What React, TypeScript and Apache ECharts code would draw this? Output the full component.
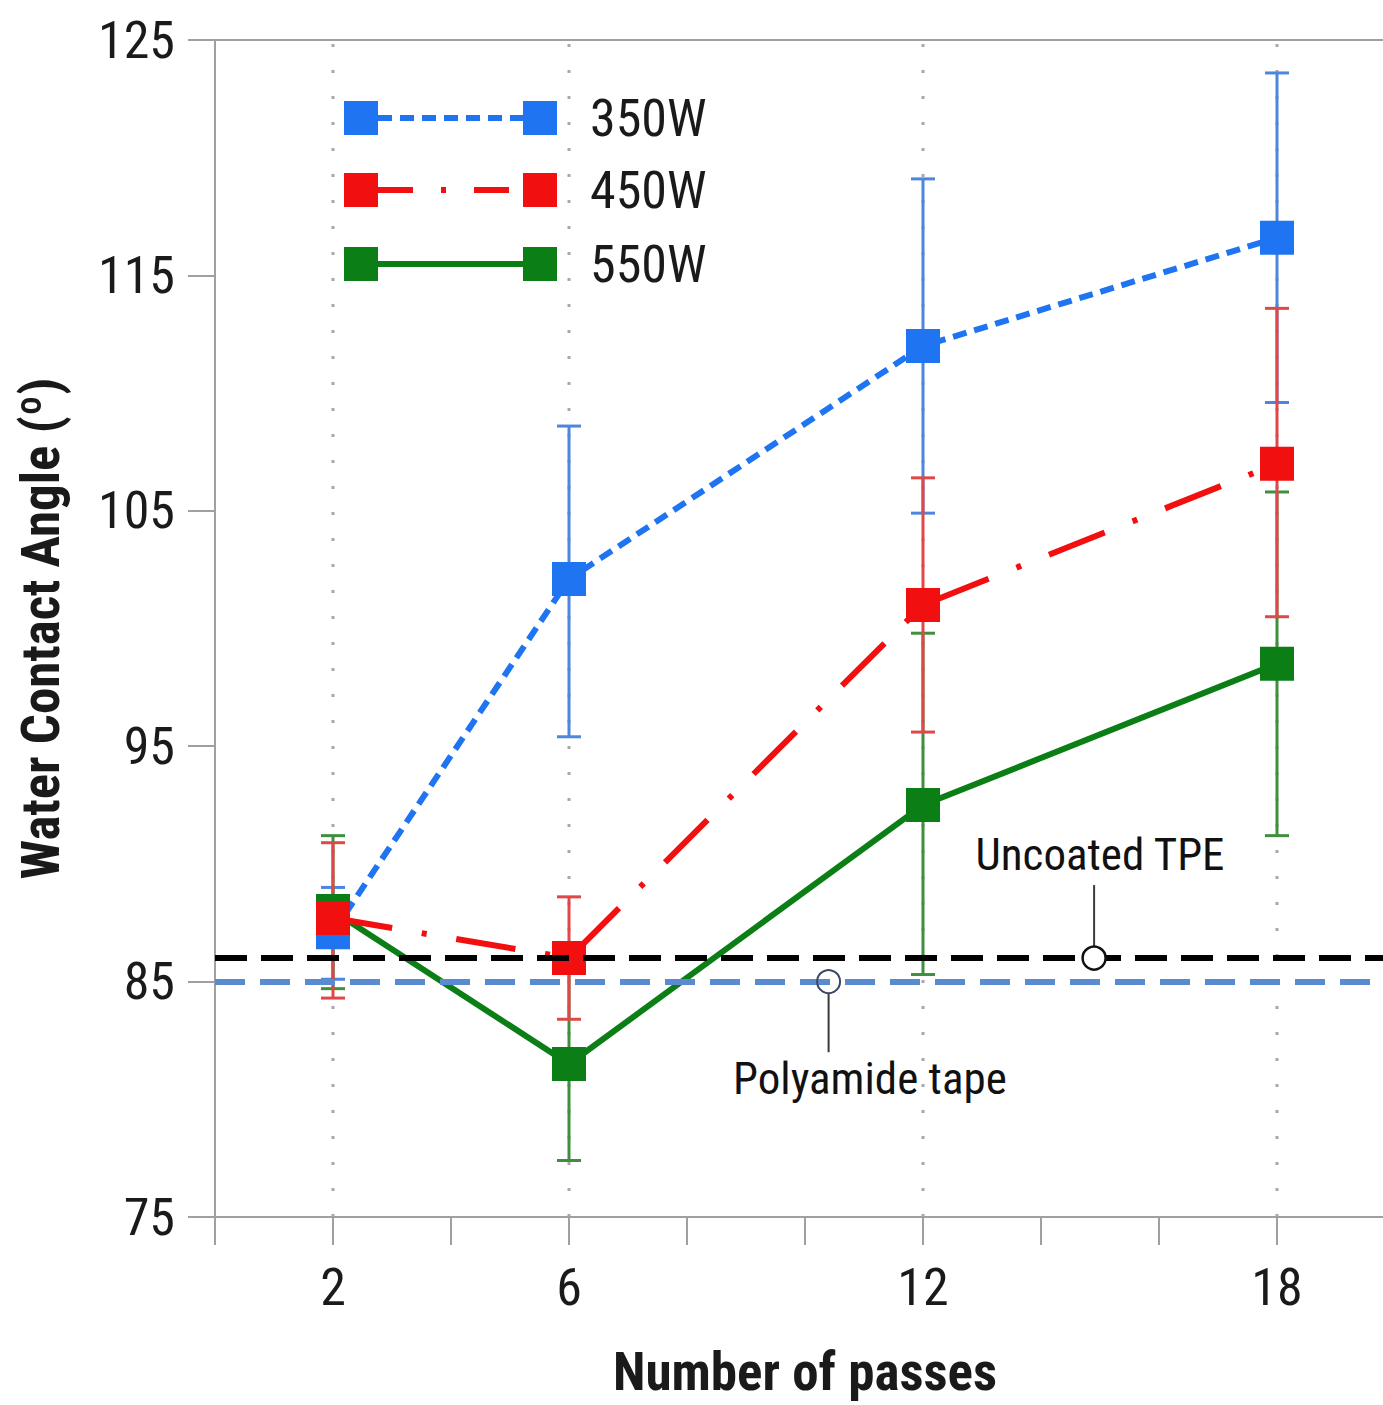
import React, { useEffect, useRef } from "react";
import * as echarts from "echarts";

const passes = [2, 6, 12, 18];
const w350 = [87.1, 102.1, 112.0, 116.6];
const w350Low = [85.1, 95.4, 104.9, 109.6];
const w350High = [89.0, 108.6, 119.1, 123.6];
const w450 = [87.7, 86.0, 101.0, 107.0];
const w450Low = [84.3, 83.4, 95.6, 100.5];
const w450High = [90.9, 88.6, 106.4, 113.6];
const w550 = [88.0, 81.5, 92.5, 98.5];
const w550Low = [84.7, 77.4, 85.3, 91.2];
const w550High = [91.2, 85.5, 99.8, 105.8];
const seriesNames = ["350W", "450W", "550W"];
const xLabelTicks = [2, 6, 12, 18];
const yRange = [75, 125];
const uncoatedTPE = 86.0;
const polyamideTape = 85.0;
const uncoatedMarker = [14.9, 86.0];
const polyamideMarker = [10.4, 85.0];
const uncoatedLeader = [[14.9, 86.5], [14.9, 89.1]];
const polyamideLeader = [[10.4, 84.5], [10.4, 82.0]];
const uncoatedLabelPos = [15.0, 90.4];
const polyamideLabelPos = [11.1, 80.9];

const FONT = "'Liberation Sans Narrow', 'Arial Narrow', 'Roboto Condensed', 'Liberation Sans', sans-serif";
const BLUE = "#1f74f2";
const RED = "#f20f0f";
const GREEN = "#0b7f16";
const BLUE_E = "#4d86de";
const RED_E = "#e04848";
const GREEN_E = "#3f8f3f";

function errorSeries(name: string, low: number[], high: number[], color: string) {
  const data = passes.map((p, i) => [p, low[i], high[i]]);
  return {
    type: "custom",
    name: name + " err",
    z: 1,
    data,
    renderItem: (params: any, api: any) => {
      const x = api.value(0);
      const lo = api.coord([x, api.value(1)]);
      const hi = api.coord([x, api.value(2)]);
      const cap = 12;
      const st = { stroke: color, lineWidth: 3 };
      return {
        type: "group",
        children: [
          { type: "line", shape: { x1: lo[0], y1: lo[1], x2: hi[0], y2: hi[1] }, style: st },
          { type: "line", shape: { x1: hi[0] - cap, y1: hi[1], x2: hi[0] + cap, y2: hi[1] }, style: st },
          { type: "line", shape: { x1: lo[0] - cap, y1: lo[1], x2: lo[0] + cap, y2: lo[1] }, style: st },
        ],
      };
    },
  };
}

function lineSeries(name: string, vals: number[], color: string, dash: any, z: number) {
  return {
    type: "line",
    name,
    z,
    data: passes.map((p, i) => [p, vals[i]]),
    symbol: "rect",
    symbolSize: 34,
    showSymbol: true,
    itemStyle: { color },
    lineStyle: { color, width: 6, type: dash, cap: "butt" },
  };
}

function legendGraphic() {
  const rows = [
    { y: 118, color: BLUE, dash: [14, 8] },
    { y: 190, color: RED, dash: [35, 28, 5, 28] },
    { y: 264, color: GREEN, dash: null },
  ];
  const out: any[] = [];
  rows.forEach((r, i) => {
    out.push({
      type: "line",
      shape: { x1: 378, y1: r.y, x2: 523, y2: r.y },
      style: { stroke: r.color, lineWidth: 6, lineDash: r.dash || undefined },
      z: 10,
    });
    out.push({ type: "rect", shape: { x: 344, y: r.y - 17, width: 34, height: 34 }, style: { fill: r.color }, z: 10 });
    out.push({ type: "rect", shape: { x: 523, y: r.y - 17, width: 34, height: 34 }, style: { fill: r.color }, z: 10 });
    out.push({
      type: "text",
      x: 590,
      y: r.y,
      style: { text: seriesNames[i], fontSize: 52, fontFamily: FONT, fill: "#1a1a1a", verticalAlign: "middle", align: "left" },
      z: 10,
    });
  });
  return out;
}

export default function App() {
  const ref = useRef<HTMLDivElement>(null);
  useEffect(() => {
    if (!ref.current) return;
    const chart = echarts.init(ref.current, null, { renderer: "svg" });
    const option: any = {
      animation: false,
      backgroundColor: "#ffffff",
      grid: { left: 215, top: 40, width: 1180, bottom: 188, containLabel: false, outerBoundsMode: "none" },
      xAxis: [
        {
          type: "value",
          min: 0,
          max: 20,
          interval: 2,
          name: "Number of passes",
          nameLocation: "middle",
          nameGap: 128,
          nameTextStyle: { fontSize: 53, fontWeight: "bold", fontFamily: FONT, color: "#1a1a1a" },
          axisLine: { show: true, lineStyle: { color: "#a0a0a0", width: 2 } },
          axisTick: { show: true, inside: false, length: 28, lineStyle: { color: "#a0a0a0", width: 2 } },
          axisLabel: {
            margin: 44,
            fontSize: 52,
            fontFamily: FONT,
            color: "#1a1a1a",
            formatter: (v: number) => (xLabelTicks.indexOf(v) >= 0 ? String(v) : ""),
          },
          splitLine: { show: false },
        },
        {
          type: "value",
          position: "top",
          min: 0,
          max: 20,
          interval: 2,
          axisLine: { show: true, lineStyle: { color: "#a0a0a0", width: 2 } },
          axisTick: { show: false },
          axisLabel: { show: false },
          splitLine: { show: false },
        },
      ],
      yAxis: {
        type: "value",
        min: 75,
        max: 125,
        interval: 10,
        name: "Water Contact Angle (º)",
        nameLocation: "middle",
        nameGap: 148,
        nameTextStyle: { fontSize: 53, fontWeight: "bold", fontFamily: FONT, color: "#1a1a1a" },
        axisLine: { show: true, lineStyle: { color: "#a0a0a0", width: 2 } },
        axisTick: { show: true, inside: false, length: 27, lineStyle: { color: "#a0a0a0", width: 2 } },
        axisLabel: { margin: 40, fontSize: 52, fontFamily: FONT, color: "#1a1a1a" },
        splitLine: { show: false },
      },
      graphic: legendGraphic(),
      series: [
        {
          type: "custom",
          name: "vgrid",
          z: 0,
          silent: true,
          data: xLabelTicks.map((v) => [v]),
          renderItem: (params: any, api: any) => {
            const x = api.value(0);
            const a = api.coord([x, yRange[0]]);
            const b = api.coord([x, yRange[1]]);
            return {
              type: "line",
              shape: { x1: a[0], y1: a[1], x2: b[0], y2: b[1] },
              style: { stroke: "#a8a8a8", lineWidth: 3, lineDash: [3, 23] },
            };
          },
        },
        errorSeries("350W", w350Low, w350High, BLUE_E),
        errorSeries("550W", w550Low, w550High, GREEN_E),
        errorSeries("450W", w450Low, w450High, RED_E),
        lineSeries("350W", w350, BLUE, [14, 8], 2),
        lineSeries("550W", w550, GREEN, "solid", 3),
        lineSeries("450W", w450, RED, [60, 30, 5, 30], 4),
        {
          type: "line",
          name: "refs",
          data: [],
          z: 5,
          markLine: {
            silent: true,
            symbol: "none",
            label: { show: false },
            data: [
              { yAxis: polyamideTape, lineStyle: { color: "#5a8bd0", width: 6, type: [30, 15] } },
              { yAxis: uncoatedTPE, lineStyle: { color: "#000000", width: 6, type: [32, 14] } },
            ],
          },
        },
        {
          type: "line",
          name: "leader1",
          z: 6,
          data: polyamideLeader,
          symbol: "none",
          lineStyle: { color: "#3a3a3a", width: 2 },
        },
        {
          type: "line",
          name: "leader2",
          z: 6,
          data: uncoatedLeader,
          symbol: "none",
          lineStyle: { color: "#3a3a3a", width: 2 },
        },
        {
          type: "scatter",
          name: "polyCircle",
          z: 7,
          data: [polyamideMarker],
          symbol: "circle",
          symbolSize: 23,
          itemStyle: { color: "rgba(255,255,255,0)", borderColor: "#3b4766", borderWidth: 2, opacity: 1 },
        },
        {
          type: "scatter",
          name: "tpeCircle",
          z: 7,
          data: [uncoatedMarker],
          symbol: "circle",
          symbolSize: 23,
          itemStyle: { color: "#ffffff", borderColor: "#111111", borderWidth: 2.5, opacity: 1 },
        },
        {
          type: "scatter",
          name: "labels",
          z: 8,
          symbolSize: 0,
          itemStyle: { opacity: 1 },
          data: [
            { value: polyamideLabelPos, label: { formatter: "Polyamide tape" } },
            { value: uncoatedLabelPos, label: { formatter: "Uncoated TPE" } },
          ],
          label: {
            show: true,
            position: "inside",
            fontSize: 45,
            fontFamily: FONT,
            color: "#111111",
            opacity: 1,
            textBorderWidth: 0,
          },
        },
      ],
    };
    chart.setOption(option);
    return () => chart.dispose();
  }, []);
  return <div ref={ref} style={{ position: "absolute", left: 0, top: 0, width: 1383, height: 1405 }} />;
}
